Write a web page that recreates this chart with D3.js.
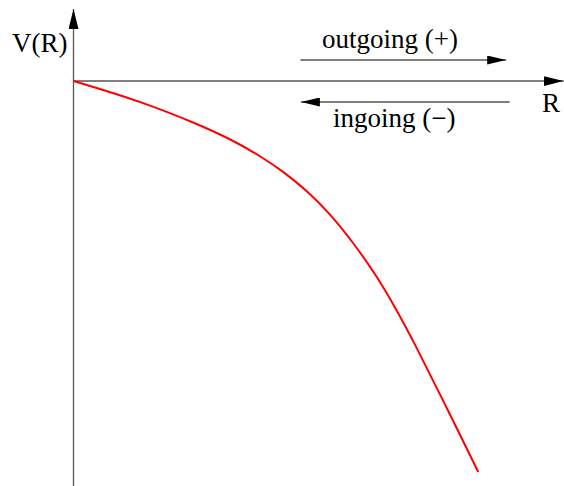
<!DOCTYPE html>
<html>
<head>
<meta charset="utf-8">
<script src="https://cdn.jsdelivr.net/npm/d3@7"></script>
<style>
  body { margin: 0; background: #fff; }
  text { font-family: "Liberation Serif", "Times New Roman", serif; }
</style>
</head>
<body>
<div id="chart"></div>
<script>
// potential curve V(R) (arbitrary units)
const rValues = [0, 1.42, 2.58, 3.26, 3.81, 4.28, 4.77, 5.24, 5.70, 6.19, 6.60, 6.93, 7.54, 8.26];
const vValues = [0, -0.42, -0.88, -1.19, -1.50, -1.81, -2.20, -2.66, -3.22, -3.90, -4.59, -5.19, -6.38, -7.82];

// direction arrows: [from R, to R, at V]
const outgoing = [4.63, 8.83, 0.42];
const ingoing = [8.9, 4.64, -0.42];

const labels = {y: 'V(R)', x: 'R', out: 'outgoing (+)', in: 'ingoing (\u2212)'};

const width = 564, height = 486;

const svg = d3.select('#chart').append('svg')
  .attr('width', width)
  .attr('height', height);

// scales
const x = d3.scaleLinear().domain([0, 10]).range([73.5, 563.5]);
const y = d3.scaleLinear().domain([1.44, -8.1]).range([9, 486]);

// arrow markers
const defs = svg.append('defs');
function marker(id, len, wid) {
  defs.append('marker')
    .attr('id', id)
    .attr('viewBox', `0 0 ${len} ${wid}`)
    .attr('refX', len)
    .attr('refY', wid / 2)
    .attr('markerWidth', len)
    .attr('markerHeight', wid)
    .attr('markerUnits', 'userSpaceOnUse')
    .attr('orient', 'auto')
    .append('path')
    .attr('d', `M0,0L${len},${wid / 2}L0,${wid}Z`)
    .attr('fill', '#000');
}
marker('axisHead', 20, 10);
marker('smallHead', 19, 9);

// axes
svg.append('line')
  .attr('x1', x(0)).attr('y1', y(-8.1))
  .attr('x2', x(0)).attr('y2', y(1.44))
  .attr('stroke', '#555').attr('stroke-width', 1.3)
  .attr('marker-end', 'url(#axisHead)');

svg.append('line')
  .attr('x1', x(0)).attr('y1', y(0))
  .attr('x2', x(10)).attr('y2', y(0))
  .attr('stroke', '#555').attr('stroke-width', 1.3)
  .attr('marker-end', 'url(#axisHead)');

// direction arrows
[outgoing, ingoing].forEach(a => {
  svg.append('line')
    .attr('x1', x(a[0])).attr('y1', y(a[2]))
    .attr('x2', x(a[1])).attr('y2', y(a[2]))
    .attr('stroke', '#555').attr('stroke-width', 1.3)
    .attr('marker-end', 'url(#smallHead)');
});

// curve
const line = d3.line()
  .x((d, i) => x(rValues[i]))
  .y(d => y(d))
  .curve(d3.curveBasis);

svg.append('path')
  .datum(vValues)
  .attr('d', line)
  .attr('fill', 'none')
  .attr('stroke', '#ff0000')
  .attr('stroke-width', 2);

// text
svg.append('text').attr('x', 12).attr('y', 52)
  .attr('font-size', 27).text(labels.y);
svg.append('text').attr('x', 542).attr('y', 112)
  .attr('font-size', 27).text(labels.x);
svg.append('text').attr('x', 322).attr('y', 48)
  .attr('font-size', 27).text(labels.out);
svg.append('text').attr('x', 333).attr('y', 127)
  .attr('font-size', 27).text(labels.in);
</script>
</body>
</html>
